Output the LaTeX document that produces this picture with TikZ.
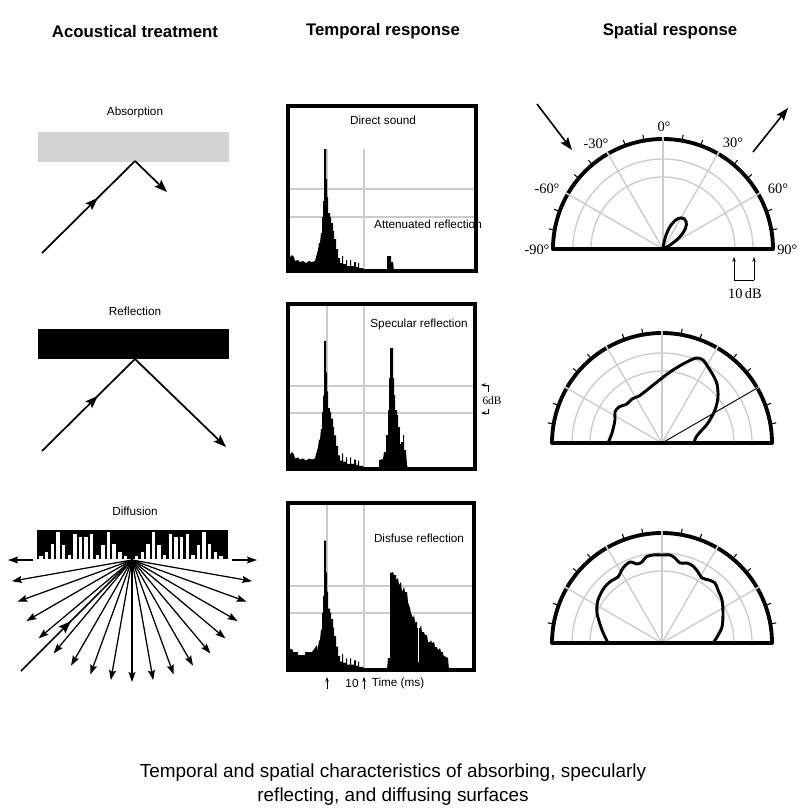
\documentclass[tikz,border=0pt]{standalone}
\usepackage{fontspec}
\setmainfont{Liberation Sans}
\newfontfamily\polarfont{Liberation Serif}
\usetikzlibrary{arrows.meta,decorations.markings}
\definecolor{blockgray}{HTML}{D1D3D4}
\definecolor{gridgray}{HTML}{CBCBCB}
\tikzset{
  hdr/.style={font=\fontsize{12.6}{14}\selectfont\bfseries, inner sep=0pt},
  lbl/.style={font=\fontsize{8.8}{10}\selectfont, inner sep=0pt},
  caption/.style={font=\fontsize{14.2}{17}\selectfont, inner sep=0pt},
  plbl/.style={font=\polarfont\fontsize{10.8}{12}\selectfont, inner sep=0pt},
  ray/.style={line width=1.3pt},
  rayhead/.style={-{Stealth[length=9.5pt,width=7pt,inset=1.8pt]}},
  midarrow/.style={postaction={decorate},decoration={markings,mark=at position #1 with {\arrow{Stealth[length=9.5pt,width=7pt,inset=1.8pt]}}}},
  fanray/.style={line width=0.95pt,-{Stealth[length=7.5pt,width=5.2pt,inset=1.2pt]}},
  panelframe/.style={line width=2.3pt},
  gridline/.style={draw=gridgray,line width=2.2pt},
  polargray/.style={draw=gridgray,line width=1pt},
  lobe/.style={line width=2.2pt,line join=round,line cap=round},
  smallarrow/.style={line width=0.6pt,-{Stealth[length=3.5pt,width=2.6pt]}},
  directsound/.pic={\fill (289,0) -- (289,-13) -- (292,-16) -- (294,-14) -- (295,-10) -- (298,-11) -- (300,-9) -- (303,-10) -- (306,-8) -- (309,-10) -- (312,-9) -- (315,-10) -- (316,-14) -- (318,-21) -- (319,-28) -- (320,-28) -- (321,-38) -- (322,-38) -- (322,-54) -- (323,-54) -- (323,-70) -- (324,-70) -- (324,-122) -- (326,-122) -- (326,-92) -- (327,-92) -- (327,-74) -- (328,-74) -- (328,-58) -- (330,-58) -- (330,-54) -- (331,-54) -- (331,-48) -- (333,-48) -- (333,-40) -- (334,-40) -- (334,-32) -- (336,-32) -- (336,-22) -- (338,-22) -- (338,-13) -- (340,-13) -- (340,-8) -- (342,-8) -- (342,-15) -- (343,-15) -- (343,-7) -- (346,-7) -- (346,-11) -- (347,-11) -- (347,-5) -- (350,-5) -- (350,-11) -- (351,-11) -- (351,-5) -- (354,-5) -- (354,-9) -- (356,-9) -- (356,-4) -- (358,-4) -- (358,-8) -- (359,-8) -- (359,-3) -- (363,-3) -- (364,0) -- cycle;}
}
\newcommand\polarbase{%
  \foreach \r in {72,90}{\draw[polargray] plot[domain=180:360,samples=73] ({\r*cos(\x)},{\r*sin(\x)});}
  \foreach \a in {-60,-30,0,30,60}{\draw[polargray] (0,0) -- (270+\a:110);}
  \draw[line width=2.9pt,line join=round] plot[domain=180:360,samples=121] ({110*cos(\x)},{110*sin(\x)}) -- cycle;
  \foreach \a in {-80,-70,-50,-40,-20,-10,10,20,40,50,70,80}{\draw[line width=0.8pt] (270+\a:110) -- (270+\a:116);}
  \foreach \a in {-60,-30,0,30,60}{\draw[draw=gridgray,line width=1.3pt] (270+\a:107.5) -- (270+\a:112.5);}
}
\begin{document}
\begin{tikzpicture}[x=0.75pt,y=-0.75pt]
\useasboundingbox[fill=white] (0,0) rectangle (800,808);

% ---------- headers ----------
\node[hdr] (h1) at (135,31) {Acoustical treatment};
\node[hdr] (h2) at (383,31) {Temporal response};
\node[hdr] (h3) at (670,31) {Spatial response};

% ---------- absorption ----------
\node[lbl] (absl) at (135,112) {Absorption};
\fill[blockgray] (38,132) rectangle (229,162);
\coordinate (a0) at (42,253);
\coordinate (a1) at (135,161);
\coordinate (a2) at (167,192);
\draw[ray,midarrow=0.6,line join=round] (a0) -- (a1);
\draw[ray,rayhead] (a1) -- (a2);

% ---------- reflection ----------
\node[lbl] (refl) at (135,311) {Reflection};
\fill[black] (38,329) rectangle (229,359);
\coordinate (r0) at (42,451);
\coordinate (r1) at (135,359);
\coordinate (r2) at (226,447);
\draw[ray,midarrow=0.6] (r0) -- (r1);
\draw[ray,rayhead] (r1) -- (r2);

% ---------- diffusion ----------
\node[lbl] (difl) at (135,511) {Diffusion};
\fill[black] (37,530) rectangle (228,559);
\foreach \n in {1,...,33}{%
  \pgfmathtruncatemacro\k{mod(\n,17)}%
  \pgfmathtruncatemacro\v{mod(\k*\k,17)}%
  \ifnum\v>0 \fill[white] ({35.5+\n*5.62-1.7},559.5) rectangle ++(3.4,{-(1.6*\v+1.5)});\fi
}
\coordinate (f) at (132,560);
\foreach \a in {10,20,...,170}{\draw[fanray] (f) -- ++(\a:122);}
\coordinate (hl0) at (33,560);
\coordinate (hl1) at (8,560);
\coordinate (hr0) at (232,560);
\coordinate (hr1) at (257,560);
\draw[fanray] (hl0) -- (hl1);
\draw[fanray] (hr0) -- (hr1);
\coordinate (d0) at (21,671);
\draw[ray,midarrow=0.45] (d0) -- (f);

% ---------- temporal panel 1 ----------
\draw[gridline] (327,149) -- (327,271) (364,149) -- (364,271) (288,189) -- (476,189) (288,217) -- (476,217);
\pic at (0,271) {directsound};
\fill (387,271) -- (387,256) -- (391,256) -- (391,262) -- (393,262) -- (394,271) -- cycle;
\draw[panelframe] (288,106) rectangle (476,271);
\node[lbl] (ds) at (383,120) {Direct sound};
\node[lbl] (ar) at (428,224) {Attenuated reflection};

% ---------- temporal panel 2 ----------
\draw[gridline] (327,304) -- (327,469) (364,304) -- (364,469) (288,386) -- (475,386) (288,413) -- (475,413);
\pic[yscale=1.05] at (0,469) {directsound};
\fill (379,469) -- (379,460) -- (383,459) -- (384,452) -- (386,452) -- (386,435) -- (388,435) -- (388,410) -- (389,410) -- (389,378) -- (390,378) -- (390,348) -- (393,348) -- (393,378) -- (394,378) -- (394,395) -- (395,395) -- (395,410) -- (397,410) -- (397,415) -- (398,415) -- (398,427) -- (400,427) -- (400,442) -- (403,442) -- (403,435) -- (404,435) -- (404,450) -- (406,450) -- (406,452) -- (407,465) -- (408,469) -- cycle;
\draw[white,line width=0.6pt] (400.5,428) -- (400.5,444);
\draw[panelframe] (288,304) rectangle (475,469);
\node[lbl] (sr) at (419,324) {Specular reflection};
\coordinate (s0) at (488,392);
\coordinate (s1) at (488,385);
\coordinate (s2) at (481,385);
\coordinate (s3) at (488,409);
\coordinate (s4) at (488,413);
\coordinate (s5) at (481,413);
\draw[smallarrow] (s0) -- (s1) -- (s2);
\draw[smallarrow] (s3) -- (s4) -- (s5);
\node[font=\polarfont\fontsize{8.5}{10}\selectfont,inner sep=0pt] (sixdb) at (492,401) {6dB};

% ---------- temporal panel 3 ----------
\draw[gridline] (327,503) -- (327,670) (364,503) -- (364,670) (288,586) -- (474,586) (288,613) -- (474,613);
\pic[yscale=1.06] at (0,670) {directsound};
\fill (289,670) -- (289,648) -- (293,650) -- (293,652) -- (298,652) -- (298,655) -- (305,655) -- (305,652) -- (312,652) -- (317,645) -- (320,670) -- cycle;
\fill (387,670) -- (388,658) -- (390,658) -- (390,573) -- (393,572) -- (394,575) -- (396,575) -- (396,580) -- (398,578) -- (399,585) -- (401,582) -- (402,592) -- (404,587) -- (405,592) -- (407,592) -- (408,602) -- (410,608) -- (411,613) -- (413,618) -- (414,615) -- (415,622) -- (417,622) -- (417,628) -- (420,628) -- (421,625) -- (422,632) -- (424,632) -- (425,635) -- (427,635) -- (428,642) -- (430,642) -- (431,640) -- (432,643) -- (434,642) -- (435,647) -- (437,647) -- (438,650) -- (440,648) -- (441,652) -- (443,652) -- (443,655) -- (446,657) -- (448,658) -- (449,670) -- cycle;
\draw[white,line width=0.6pt] (418.5,618) -- (418.5,662);
\draw[panelframe] (288,503) rectangle (474,670);
\node[lbl] (dr) at (419,538) {Disfuse reflection};
\coordinate (ta0) at (327,689);
\coordinate (ta1) at (327,677);
\coordinate (tb0) at (364,689);
\coordinate (tb1) at (364,677);
\draw[smallarrow] (ta0) -- (ta1);
\draw[smallarrow] (tb0) -- (tb1);
\node[lbl] (t10) at (352,683) {10};
\node[lbl] (tms) at (398,683) {Time (ms)};

% ---------- spatial plot 1 ----------
\begin{scope}[shift={(663,249)}]
  \polarbase
  \draw[lobe,rotate=-35] (0,0) .. controls (-10,-18) and (-9,-36) .. (0,-37) .. controls (9,-36) and (10,-18) .. (0,0);
\end{scope}
\node[plbl] (p0) at (664,127) {0°};
\node[plbl] (pm30) at (596,144) {-30°};
\node[plbl] (pp30) at (733,143) {30°};
\node[plbl] (pm60) at (547,189) {-60°};
\node[plbl] (pp60) at (778,189) {60°};
\node[plbl] (pm90) at (537,250) {-90°};
\node[plbl,anchor=west] (pp90) at (777,250) {90°};
\coordinate (in0) at (537,104);
\coordinate (in1) at (572,150);
\coordinate (out0) at (753,152);
\coordinate (out1) at (788,108);
\draw[ray,rayhead,line width=1.2pt] (in0) -- (in1);
\draw[ray,rayhead,line width=1.2pt] (out0) -- (out1);
\coordinate (db0) at (734,280);
\coordinate (db1) at (734,257);
\coordinate (db2) at (754,280);
\coordinate (db3) at (754,257);
\draw[line width=0.6pt] (db0) -- (db2);
\draw[smallarrow] (db0) -- (db1);
\draw[smallarrow] (db2) -- (db3);
\node[plbl] (tendb) at (745,294) {10\,dB};

% ---------- spatial plot 2 ----------
\begin{scope}[shift={(662,443)}]
  \polarbase
  \draw[line width=0.6pt] (0,0) -- (330:111);
\end{scope}
\draw[lobe] plot[smooth,tension=0.5] coordinates {(608,443) (612,433) (615,420) (615,412) (619,407) (627,404) (632,399) (639,396) (647,390) (657,382) (670,372) (683,364) (696,358) (703,360) (708,367) (713,375) (717,384) (718,397) (715,410) (708,423) (701,431) (696,437) (694,443)};

% ---------- spatial plot 3 ----------
\begin{scope}[shift={(662,643)}]
  \polarbase
\end{scope}
\draw[lobe] plot[smooth,tension=0.5] coordinates {(608,643) (602,630) (597,613) (598,600) (604,588) (611,581) (618,577) (623,568) (630,562) (637,564) (642,562) (646,557) (653,555) (662,555) (670,555) (675,558) (680,563) (687,563) (693,566) (698,572) (702,578) (709,580) (715,583) (718,590) (722,600) (723,613) (722,627) (717,637) (713,643)};

% ---------- caption ----------
\node[caption] (cap1) at (393,773) {Temporal and spatial characteristics of absorbing, specularly};
\node[caption] (cap2) at (393,797) {reflecting, and diffusing surfaces};
\end{tikzpicture}
\end{document}
